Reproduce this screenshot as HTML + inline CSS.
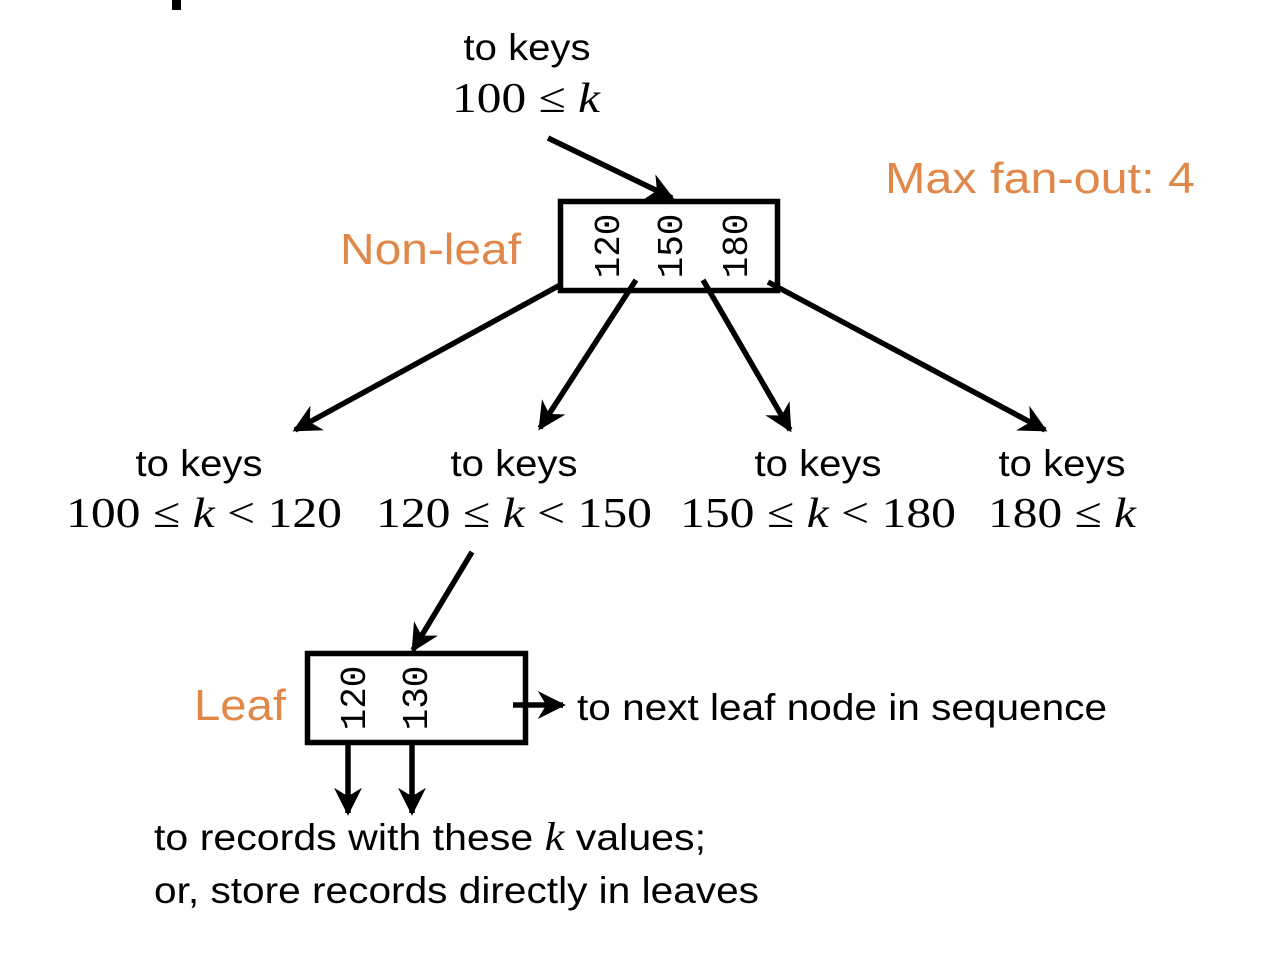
<!DOCTYPE html>
<html><head><style>
html,body{margin:0;padding:0;background:#fff;}
svg{display:block;}
.s{font-family:"Liberation Sans",sans-serif;font-size:37px;fill:#000;}
.m{font-family:"Liberation Serif",serif;font-size:42px;fill:#000;}
.o{font-family:"Liberation Sans",sans-serif;font-size:44px;fill:#E0884A;}
.n{font-family:"Liberation Mono",monospace;font-size:36px;fill:#000;}
</style></head><body>
<svg width="1266" height="962" viewBox="0 0 1266 962" xmlns="http://www.w3.org/2000/svg">
<defs>
<marker id="h" viewBox="0 0 10 10" refX="9" refY="5" markerWidth="28" markerHeight="28" markerUnits="userSpaceOnUse" orient="auto"><path d="M0,0 L10,5 L0,10 L3,5 z" fill="#000"/></marker></defs>
<rect x="172" y="0" width="9" height="10" fill="#000"/>
<text class="s" x="527" y="60" text-anchor="middle" textLength="127" lengthAdjust="spacingAndGlyphs">to keys</text>
<text class="m" x="452" y="112" textLength="148" lengthAdjust="spacingAndGlyphs">100 ≤ <tspan font-style="italic">k</tspan></text>
<text class="o" x="885" y="193" textLength="310" lengthAdjust="spacingAndGlyphs">Max fan-out: 4</text>
<text class="o" x="340" y="264" textLength="181" lengthAdjust="spacingAndGlyphs">Non-leaf</text>
<text class="o" x="194" y="720" textLength="92" lengthAdjust="spacingAndGlyphs">Leaf</text>
<g stroke="#000" stroke-width="5.5" fill="none">
<rect x="560.5" y="201.5" width="217" height="89"/>
<rect x="307.5" y="653.5" width="218" height="89"/>
<line x1="548" y1="138" x2="672" y2="198" marker-end="url(#h)"/>
<line x1="562" y1="284" x2="295" y2="430" marker-end="url(#h)"/>
<line x1="636" y1="280" x2="540" y2="428" marker-end="url(#h)"/>
<line x1="703" y1="280" x2="790" y2="430" marker-end="url(#h)"/>
<line x1="768" y1="282" x2="1045" y2="430" marker-end="url(#h)"/>
<line x1="472" y1="552" x2="413" y2="650" marker-end="url(#h)"/>
<line x1="513" y1="705" x2="563" y2="705" marker-end="url(#h)"/>
<line x1="348" y1="742" x2="348" y2="813" marker-end="url(#h)"/>
<line x1="412" y1="742" x2="412" y2="813" marker-end="url(#h)"/>
</g>
<text transform="translate(619,246) rotate(-90)" text-anchor="middle" class="n">120</text>
<text transform="translate(682,246) rotate(-90)" text-anchor="middle" class="n">150</text>
<text transform="translate(747,246) rotate(-90)" text-anchor="middle" class="n">180</text>
<text transform="translate(365,698) rotate(-90)" text-anchor="middle" class="n">120</text>
<text transform="translate(427,698) rotate(-90)" text-anchor="middle" class="n">130</text>
<text class="s" x="199" y="476" text-anchor="middle" textLength="127" lengthAdjust="spacingAndGlyphs">to keys</text>
<text class="s" x="514" y="476" text-anchor="middle" textLength="127" lengthAdjust="spacingAndGlyphs">to keys</text>
<text class="s" x="818" y="476" text-anchor="middle" textLength="127" lengthAdjust="spacingAndGlyphs">to keys</text>
<text class="s" x="1062" y="476" text-anchor="middle" textLength="127" lengthAdjust="spacingAndGlyphs">to keys</text>
<text class="m" x="66" y="527" textLength="276" lengthAdjust="spacingAndGlyphs">100 ≤ <tspan font-style="italic">k</tspan> &lt; 120</text>
<text class="m" x="376" y="527" textLength="276" lengthAdjust="spacingAndGlyphs">120 ≤ <tspan font-style="italic">k</tspan> &lt; 150</text>
<text class="m" x="680" y="527" textLength="276" lengthAdjust="spacingAndGlyphs">150 ≤ <tspan font-style="italic">k</tspan> &lt; 180</text>
<text class="m" x="988" y="527" textLength="148" lengthAdjust="spacingAndGlyphs">180 ≤ <tspan font-style="italic">k</tspan></text>
<text class="s" x="577" y="720" textLength="530" lengthAdjust="spacingAndGlyphs">to next leaf node in sequence</text>
<text class="s" x="154" y="850" textLength="552" lengthAdjust="spacingAndGlyphs">to records with these <tspan font-family="Liberation Serif" font-style="italic" font-size="40">k</tspan> values;</text>
<text class="s" x="154" y="903" textLength="605" lengthAdjust="spacingAndGlyphs">or, store records directly in leaves</text>
</svg>
</body></html>
